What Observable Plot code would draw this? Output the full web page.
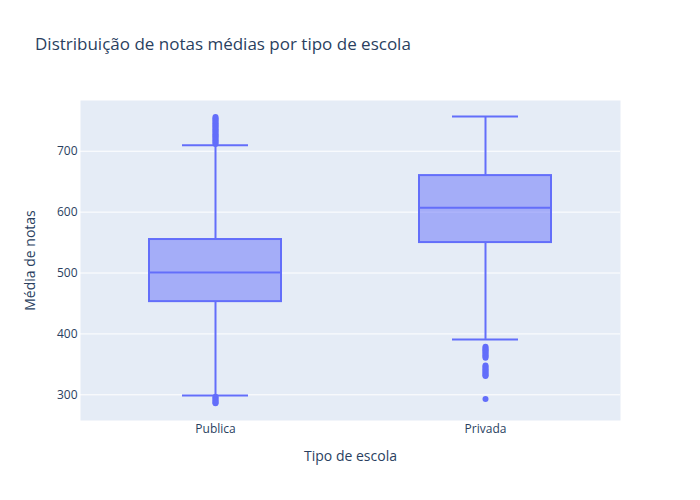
<!DOCTYPE html>
<html><head><meta charset="utf-8">
<script src="https://cdn.jsdelivr.net/npm/d3@7"></script>
<script src="https://cdn.jsdelivr.net/npm/@observablehq/plot@0.6"></script>
<style>
body{margin:0;background:#fff;}
#wrap{position:relative;width:700px;height:500px;font-family:"Open Sans",sans-serif;}
#title{position:absolute;left:35px;top:32px;font-size:17px;color:#2a3f5f;white-space:nowrap;line-height:23px;}
svg [aria-label="y-axis label"], svg [aria-label="x-axis label"]{font-size:14px;}
</style></head><body><div id="wrap"><div id="title">Distribuição de notas médias por tipo de escola</div></div>
<script>
const categories = ["Publica", "Privada"];
const lowerWhisker = [299, 391];
const q1 = [453, 550];
const median = [501, 607];
const q3 = [555, 660];
const upperWhisker = [710, 757];
const outliersPublica = [712, 714, 716, 718, 720, 722, 724, 726, 728, 730, 732, 734, 736, 738, 740, 742, 744, 746, 748, 750, 752, 754, 756, 297, 295, 293, 291, 289, 287, 286];
const outliersPrivada = [379, 377, 375, 373, 371, 369, 367, 365, 363, 361, 348, 346, 344, 342, 340, 338, 336, 334, 332, 331, 293];
const yTicks = [300, 400, 500, 600, 700];

const stats = categories.map((c, i) => ({tipo: c, lw: lowerWhisker[i], q1: q1[i], median: median[i], q3: q3[i], uw: upperWhisker[i]}));
const outliers = [
  ...outliersPublica.map(v => ({tipo: "Publica", v})),
  ...outliersPrivada.map(v => ({tipo: "Privada", v}))
];
const C = "#636efa";
const chart = Plot.plot({
  width: 700, height: 500,
  marginLeft: 80, marginRight: 80, marginTop: 100, marginBottom: 80,
  style: {fontFamily: '"Open Sans", sans-serif', fontSize: "12px", color: "#2a3f5f", background: "transparent"},
  x: {type: "band", domain: categories, paddingInner: 0.51, paddingOuter: 0.255, align: 0.5},
  y: {domain: [257.8, 783.3]},
  marks: [
    Plot.frame({fill: "#E5ECF6", stroke: "none"}),
    Plot.gridY(yTicks, {stroke: "white", strokeOpacity: 1, strokeWidth: 1}),
    Plot.ruleX(stats, {x: "tipo", y1: "lw", y2: "q1", stroke: C, strokeWidth: 2}),
    Plot.ruleX(stats, {x: "tipo", y1: "q3", y2: "uw", stroke: C, strokeWidth: 2}),
    Plot.tickY(stats, {x: "tipo", y: "lw", insetLeft: 33, insetRight: 33, stroke: C, strokeWidth: 2}),
    Plot.tickY(stats, {x: "tipo", y: "uw", insetLeft: 33, insetRight: 33, stroke: C, strokeWidth: 2}),
    Plot.barY(stats, {x: "tipo", y1: "q1", y2: "q3", fill: C, fillOpacity: 0.5, stroke: C, strokeWidth: 2}),
    Plot.tickY(stats, {x: "tipo", y: "median", stroke: C, strokeWidth: 2}),
    Plot.dot(outliers, {x: "tipo", y: "v", r: 3, fill: C, stroke: "none"}),
    Plot.axisY(yTicks, {tickSize: 0, tickPadding: 3, label: "Média de notas", labelAnchor: "center", labelOffset: 55, labelArrow: false}),
    Plot.axisX({tickSize: 0, tickPadding: 4, label: "Tipo de escola", labelAnchor: "center", labelOffset: 40, labelArrow: false})
  ]
});
chart.style.position = "absolute";
chart.style.left = "0";
chart.style.top = "0";
document.getElementById("wrap").prepend(chart);
</script>
</body></html>
